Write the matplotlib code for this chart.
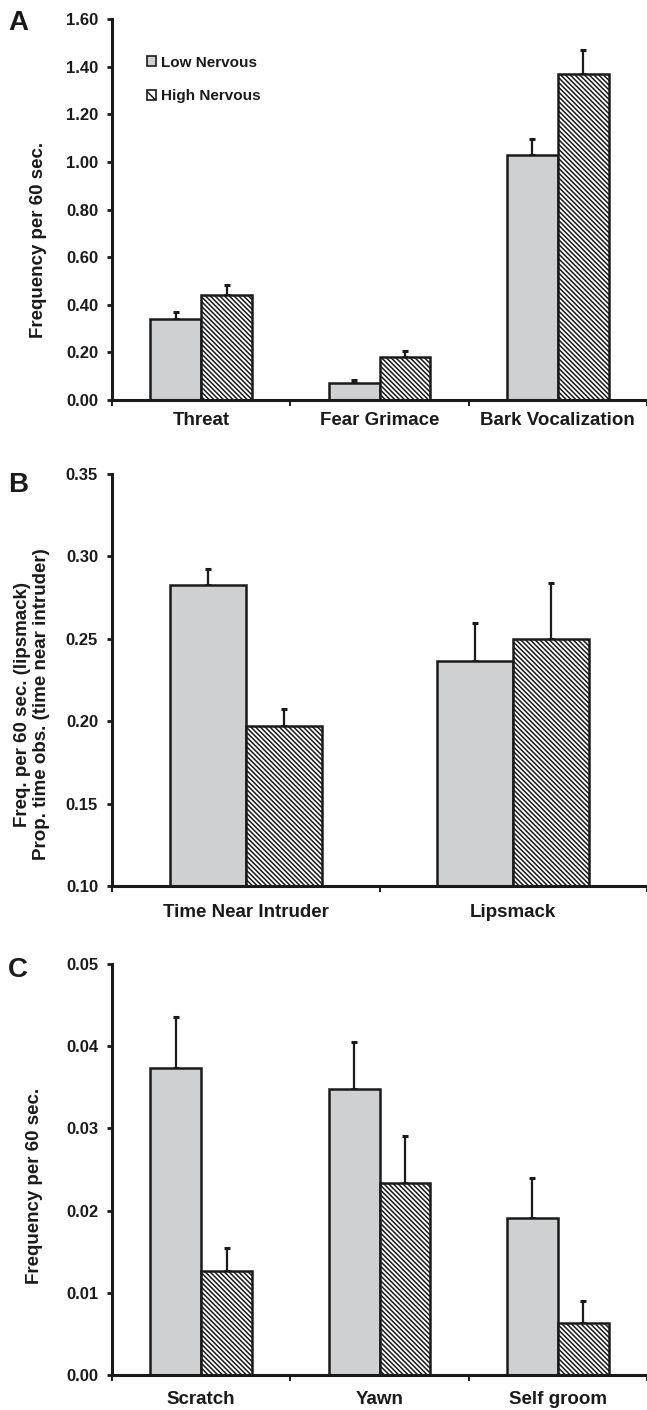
import matplotlib
matplotlib.use("Agg")
import matplotlib.pyplot as plt
from matplotlib.patches import Patch
from matplotlib.ticker import FormatStrFormatter
from matplotlib.transforms import blended_transform_factory
import numpy as np

plt.rcParams['font.family'] = ['Liberation Sans', 'DejaVu Sans']
plt.rcParams['font.weight'] = 'bold'
plt.rcParams['hatch.linewidth'] = 1.1

# ---- data ----
cats_a = ["Threat", "Fear Grimace", "Bark Vocalization"]
low_a = [0.342, 0.070, 1.027]
low_a_se = [0.028, 0.014, 0.070]
high_a = [0.440, 0.179, 1.369]
high_a_se = [0.042, 0.028, 0.101]

cats_b = ["Time Near Intruder", "Lipsmack"]
low_b = [0.2826, 0.2367]
low_b_se = [0.0095, 0.0227]
high_b = [0.1973, 0.2497]
high_b_se = [0.0099, 0.0344]

cats_c = ["Scratch", "Yawn", "Self groom"]
low_c = [0.0373, 0.0348, 0.0191]
low_c_se = [0.0063, 0.0057, 0.0049]
high_c = [0.0127, 0.0233, 0.0063]
high_c_se = [0.0028, 0.0058, 0.0027]

legend_labels = ["Low Nervous", "High Nervous"]

# ---- style ----
LOW_FC = '#cfd0d2'
EDGE = '#1a1a1a'
HATCH = '\\' * 7
TXT = '#1a1a1a'
W, H = 647, 1410

fig = plt.figure(figsize=(W / 100, H / 100), dpi=100)


def add_ax(top_px, bottom_px):
    return fig.add_axes([112 / W, 1 - bottom_px / H, (W - 112) / W, (bottom_px - top_px) / H])


def draw(ax, cats, low, low_se, high, high_se, ylim, yticks, label_y):
    n = len(cats)
    x = np.arange(n)
    w = 0.285
    ax.bar(x - w / 2, low, w, color=LOW_FC, edgecolor=EDGE, linewidth=1.8, zorder=2)
    ax.bar(x + w / 2, high, w, color='white', edgecolor=EDGE, hatch=HATCH, linewidth=1.8, zorder=2)
    ax.errorbar(x - w / 2, low, yerr=[np.zeros(n), low_se], fmt='none', ecolor=EDGE,
                elinewidth=1.6, capsize=2.2, capthick=2.2, zorder=1)
    ax.errorbar(x + w / 2, high, yerr=[np.zeros(n), high_se], fmt='none', ecolor=EDGE,
                elinewidth=1.6, capsize=2.2, capthick=2.2, zorder=1)
    ax.set_xlim(-0.5, n - 0.5)
    ax.set_ylim(*ylim)
    ax.set_yticks(yticks)
    ax.yaxis.set_major_formatter(FormatStrFormatter('%.2f'))
    ax.set_xticks(np.arange(n + 1) - 0.5)
    ax.set_xticklabels([])
    ax.tick_params(axis='x', direction='out', length=4, width=1.4, color=EDGE)
    ax.tick_params(axis='y', direction='out', length=3.5, width=2, color=EDGE,
                   labelsize=12, pad=6.5, labelcolor=TXT)
    for lab in ax.get_yticklabels():
        lab.set_fontweight('bold')
    for s in ['top', 'right']:
        ax.spines[s].set_visible(False)
    for s in ['left', 'bottom']:
        ax.spines[s].set_linewidth(2.2)
        ax.spines[s].set_color(EDGE)
        ax.spines[s].set_zorder(3)
    tr = blended_transform_factory(ax.transData, ax.transAxes)
    for xi, c in zip(x, cats):
        ax.text(xi, label_y, c, transform=tr, ha='center', va='center',
                fontsize=13.5, fontweight='bold', color=TXT)


axA = add_ax(19, 400)
draw(axA, cats_a, low_a, low_a_se, high_a, high_a_se, (0, 1.6),
     np.arange(0, 1.61, 0.2), -0.055)
axB = add_ax(474, 886)
draw(axB, cats_b, low_b, low_b_se, high_b, high_b_se, (0.10, 0.35),
     np.arange(0.10, 0.351, 0.05), -0.0655)
axC = add_ax(964, 1375)
draw(axC, cats_c, low_c, low_c_se, high_c, high_c_se, (0, 0.05),
     np.arange(0, 0.0501, 0.01), -0.0608)

# legend
handles = [Patch(facecolor=LOW_FC, edgecolor=EDGE, linewidth=1.2),
           Patch(facecolor='white', edgecolor=EDGE, hatch='\\\\\\', linewidth=1.2)]
leg = axA.legend(handles, legend_labels, loc='center left',
                 bbox_to_anchor=(147 / W, 1 - 79.5 / H), bbox_transform=fig.transFigure,
                 frameon=False, handlelength=0.6, handleheight=0.6, handletextpad=0.3,
                 labelspacing=1.3, borderpad=0, borderaxespad=0,
                 prop={'size': 11, 'weight': 'bold'})
for t in leg.get_texts():
    t.set_color(TXT)

# y labels
fig.text(39 / W, 1 - 240 / H, "Frequency per 60 sec.", rotation=90, ha='center', va='center',
         fontsize=13.5, fontweight='bold', color=TXT)
fig.text(32 / W, 1 - 704 / H, "Freq. per 60 sec. (lipsmack)\nProp. time obs. (time near intruder)",
         rotation=90, ha='center', va='center', fontsize=13.5, fontweight='bold', color=TXT,
         multialignment='center')
fig.text(35 / W, 1 - 1186 / H, "Frequency per 60 sec.", rotation=90, ha='center', va='center',
         fontsize=13.5, fontweight='bold', color=TXT)

# panel letters
for letter, yc in [("A", 23), ("B", 485), ("C", 970)]:
    fig.text(8 / W, 1 - yc / H, letter, ha='left', va='center', fontsize=20,
             fontweight='bold', color=TXT)

fig.savefig("out.png", dpi=100)
